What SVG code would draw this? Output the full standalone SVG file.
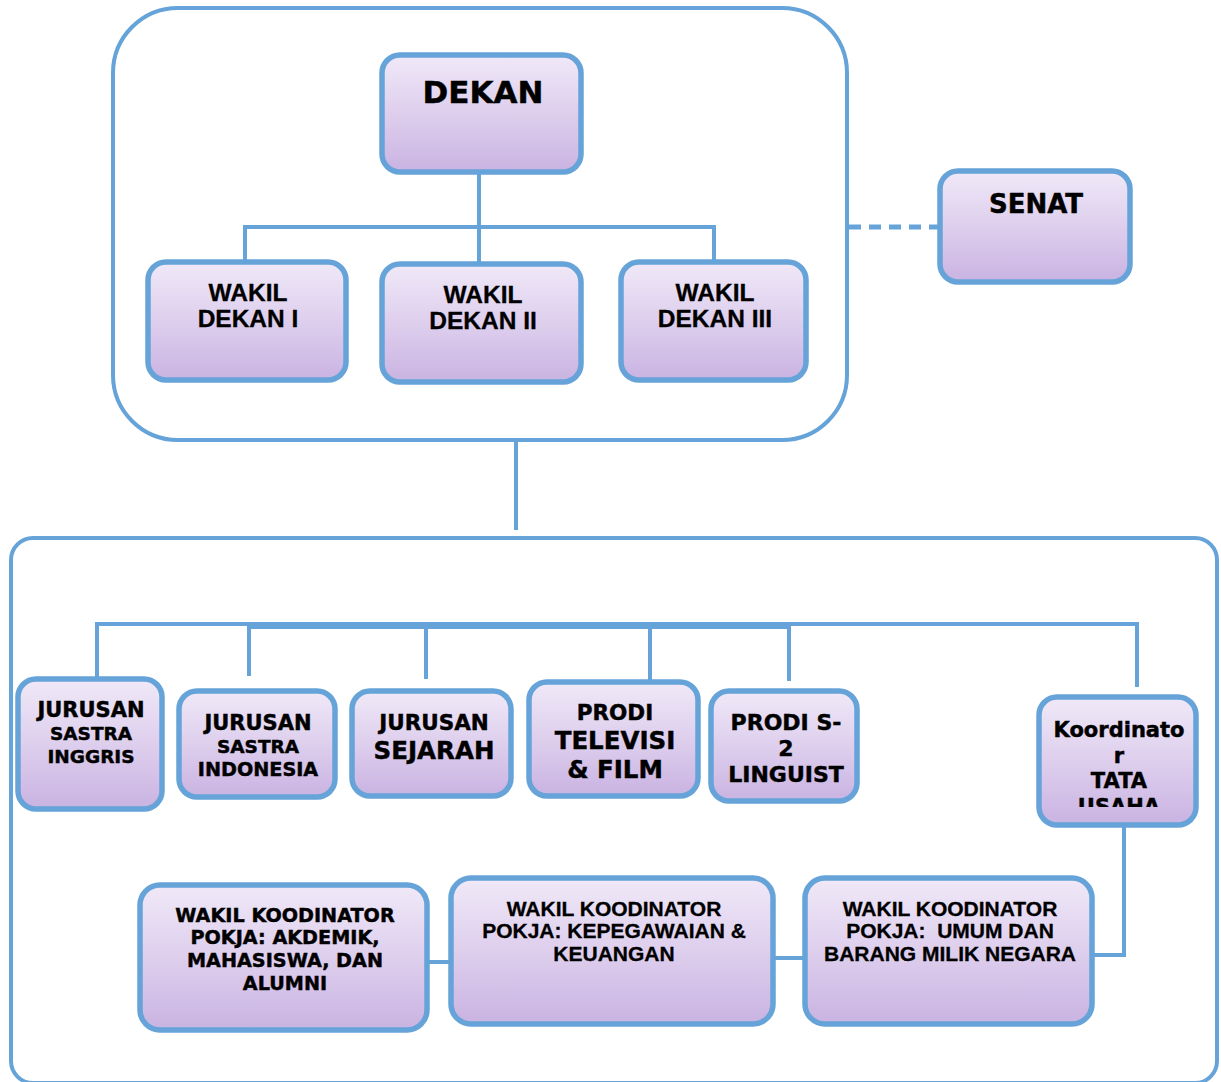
<svg xmlns="http://www.w3.org/2000/svg" width="1221" height="1082" viewBox="0 0 1221 1082">
<defs>
<linearGradient id="g" x1="0" y1="0" x2="0" y2="1">
<stop offset="0" stop-color="#f0e9f8"/>
<stop offset="0.55" stop-color="#dcccec"/>
<stop offset="1" stop-color="#c9b3e2"/>
</linearGradient>
<clipPath id="clipKTU"><rect x="1039" y="697" width="157" height="110"/></clipPath>
<style>
.cont{fill:#fff;stroke:#66a3d9;stroke-width:4}
.box{fill:url(#g);stroke:#66a3d9;stroke-width:5.5}
.ln{fill:none;stroke:#66a3d9;stroke-width:4}
.dash{fill:none;stroke:#66a3d9;stroke-width:5;stroke-dasharray:12 8}
.v{font-family:"DejaVu Sans","Verdana",sans-serif;font-weight:bold;fill:#000;stroke:#000;stroke-width:0.45;text-anchor:middle}
.t{font-family:"Liberation Sans","Arial",sans-serif;font-weight:bold;fill:#000;stroke:#000;stroke-width:0.3;text-anchor:middle}
</style>
</defs>
<rect width="1221" height="1082" fill="#fff"/>
<g id="container-top"><rect class="cont" x="113" y="8" width="734" height="432" rx="65"/></g>
<g id="container-bottom"><rect class="cont" x="11" y="538" width="1206" height="545" rx="22"/></g>

<g id="connectors">
<path class="ln" d="M479 172 V263 M245 263 V227 H714 V262"/>
<path class="dash" d="M849 227 H940"/>
<path class="ln" d="M516 440 V530"/>
<path class="ln" d="M97 685 V624 H1137 V687"/>
<path class="ln" d="M249 627 H789"/>
<path class="ln" d="M249 624 V676 M426 624 V679 M650 624 V681 M789 624 V681"/>
<path class="ln" d="M427 962 H451"/>
<path class="ln" d="M773 958 H805"/>
<path class="ln" d="M1092 955 H1124 V825"/>
</g>

<g id="dekan"><rect class="box" x="382" y="55" width="199" height="117" rx="18"/><text class="v" x="483" y="103" font-size="31">DEKAN</text></g>
<g id="senat"><rect class="box" x="940" y="171" width="190" height="111" rx="18"/><text class="v" x="1036" y="213" font-size="26">SENAT</text></g>
<g id="wd1"><rect class="box" x="148" y="262" width="198" height="118" rx="18"/><text class="t" x="248" y="301" font-size="24.5">WAKIL</text><text class="t" x="248" y="327" font-size="24.5">DEKAN I</text></g>
<g id="wd2"><rect class="box" x="382" y="264" width="199" height="118" rx="18"/><text class="t" x="483" y="303" font-size="24.5">WAKIL</text><text class="t" x="483" y="329" font-size="24.5">DEKAN II</text></g>
<g id="wd3"><rect class="box" x="621" y="262" width="185" height="118" rx="18"/><text class="t" x="715" y="301" font-size="24.5">WAKIL</text><text class="t" x="715" y="327" font-size="24.5">DEKAN III</text></g>

<g id="jsi"><rect class="box" x="18" y="679" width="144" height="130" rx="18"/><text class="v" x="91" y="716.5" font-size="21">JURUSAN</text><text class="v" x="91" y="740" font-size="18.5">SASTRA</text><text class="v" x="91" y="763" font-size="18.5">INGGRIS</text></g>
<g id="jsind"><rect class="box" x="179" y="691" width="156" height="106" rx="18"/><text class="v" x="258" y="729.5" font-size="21">JURUSAN</text><text class="v" x="258" y="753" font-size="18.5">SASTRA</text><text class="v" x="258" y="776" font-size="19.2">INDONESIA</text></g>
<g id="jsej"><rect class="box" x="352" y="691" width="159" height="105" rx="18"/><text class="v" x="434" y="729.5" font-size="21.5">JURUSAN</text><text class="v" x="434" y="759" font-size="24.5">SEJARAH</text></g>
<g id="ptf"><rect class="box" x="529" y="682" width="169" height="114" rx="18"/><text class="v" x="615" y="720" font-size="21.5">PRODI</text><text class="v" x="615" y="749" font-size="24.5">TELEVISI</text><text class="v" x="615" y="778" font-size="24.5">&amp; FILM</text></g>
<g id="ps2"><rect class="box" x="711" y="691" width="146" height="110" rx="18"/><text class="v" x="786" y="730" font-size="22">PRODI S-</text><text class="v" x="786" y="756" font-size="22">2</text><text class="v" x="786" y="782" font-size="22">LINGUIST</text></g>
<g id="ktu"><rect class="box" x="1039" y="697" width="157" height="128" rx="18"/><g clip-path="url(#clipKTU)"><text class="v" x="1119" y="737" font-size="21">Koordinato</text><text class="v" x="1119" y="762.5" font-size="21">r</text><text class="v" x="1119" y="788" font-size="21">TATA</text><text class="v" x="1119" y="813.5" font-size="21">USAHA</text></g></g>

<g id="wk1"><rect class="box" x="140" y="885" width="287" height="145" rx="20"/><text class="v" x="285" y="922" font-size="19.2">WAKIL KOODINATOR</text><text class="v" x="285" y="944" font-size="19.2">POKJA: AKDEMIK,</text><text class="v" x="285" y="967" font-size="19.2">MAHASISWA, DAN</text><text class="v" x="285" y="990" font-size="19.2">ALUMNI</text></g>
<g id="wk2"><rect class="box" x="451" y="878" width="322" height="146" rx="20"/><text class="t" x="614" y="915.5" font-size="21">WAKIL KOODINATOR</text><text class="t" x="614" y="937.5" font-size="21">POKJA: KEPEGAWAIAN &amp;</text><text class="t" x="614" y="960.5" font-size="21">KEUANGAN</text></g>
<g id="wk3"><rect class="box" x="805" y="878" width="287" height="146" rx="20"/><text class="t" x="950" y="915.5" font-size="21">WAKIL KOODINATOR</text><text class="t" x="950" y="937.5" font-size="21" xml:space="preserve">POKJA:  UMUM DAN</text><text class="t" x="950" y="960.5" font-size="21">BARANG MILIK NEGARA</text></g>
</svg>
